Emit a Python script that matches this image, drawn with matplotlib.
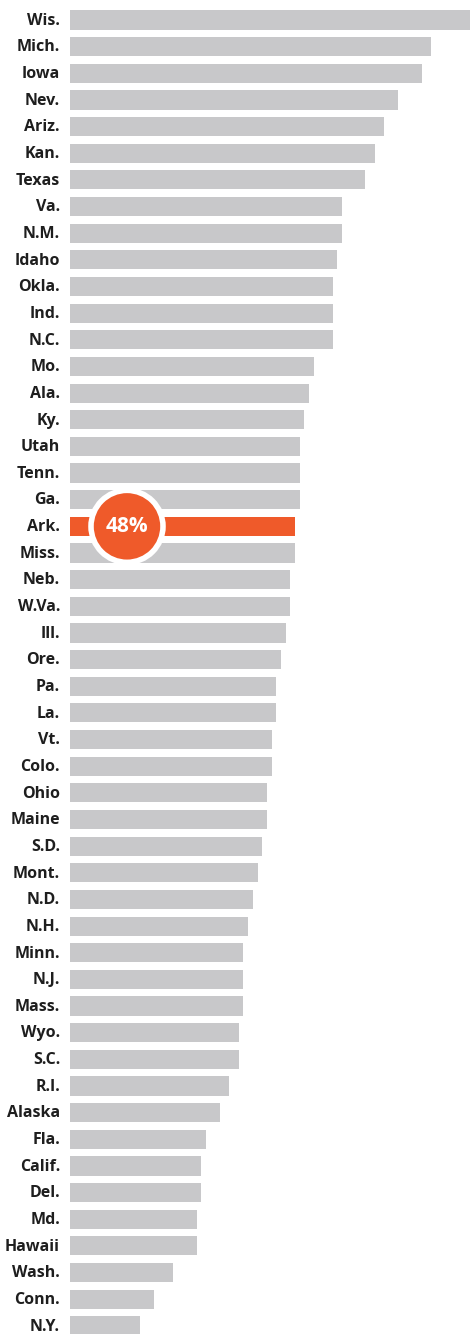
import matplotlib.pyplot as plt
from matplotlib.patches import Ellipse

states = ['Wis.', 'Mich.', 'Iowa', 'Nev.', 'Ariz.', 'Kan.', 'Texas', 'Va.', 'N.M.', 'Idaho',
          'Okla.', 'Ind.', 'N.C.', 'Mo.', 'Ala.', 'Ky.', 'Utah', 'Tenn.', 'Ga.', 'Ark.',
          'Miss.', 'Neb.', 'W.Va.', 'Ill.', 'Ore.', 'Pa.', 'La.', 'Vt.', 'Colo.', 'Ohio',
          'Maine', 'S.D.', 'Mont.', 'N.D.', 'N.H.', 'Minn.', 'N.J.', 'Mass.', 'Wyo.', 'S.C.',
          'R.I.', 'Alaska', 'Fla.', 'Calif.', 'Del.', 'Md.', 'Hawaii', 'Wash.', 'Conn.', 'N.Y.']
values = [86, 77, 75, 70, 67, 65, 63, 58, 58, 57,
          56, 56, 56, 52, 51, 50, 49, 49, 49, 48,
          48, 47, 47, 46, 45, 44, 44, 43, 43, 42,
          42, 41, 40, 39, 38, 37, 37, 37, 36, 36,
          34, 32, 29, 28, 28, 27, 27, 22, 18, 15]
highlight = 'Ark.'

grey = '#c8c8ca'
orange = '#ef5a2a'

fig = plt.figure(figsize=(4.7, 13.34), dpi=100)
ax = fig.add_axes([70 / 470, 0, 400 / 470, 1])

colors = [orange if s == highlight else grey for s in states]
y = list(range(len(states)))
ax.barh(y, values, height=0.72, color=colors)

ax.set_xlim(0, 400 / 4.6875)
ax.set_ylim((1334 - 20) / 26.65, -20 / 26.65)
ax.axis('off')

for i, s in enumerate(states):
    ax.text(-10 / 4.6875, i + 0.03, s, ha='right', va='center', fontsize=11.5,
            fontweight='bold', color='#1e1e1e', family='Open Sans')

# badge on the highlighted bar
hi = states.index(highlight)
hv = values[hi]
# keep circle round in pixel space
px_x = 4.6875
px_y = 26.65
r = 36
cx = 57 / px_x
circ = Ellipse((cx, hi), width=2 * r / px_x, height=2 * r / px_y,
               facecolor=orange, edgecolor='white', linewidth=4, zorder=3)
ax.add_patch(circ)
ax.text(cx, hi, f'{hv}%', ha='center', va='center', fontsize=15,
        fontweight='bold', color='white', family='Open Sans', zorder=4)

fig.savefig('out.png', dpi=100)
